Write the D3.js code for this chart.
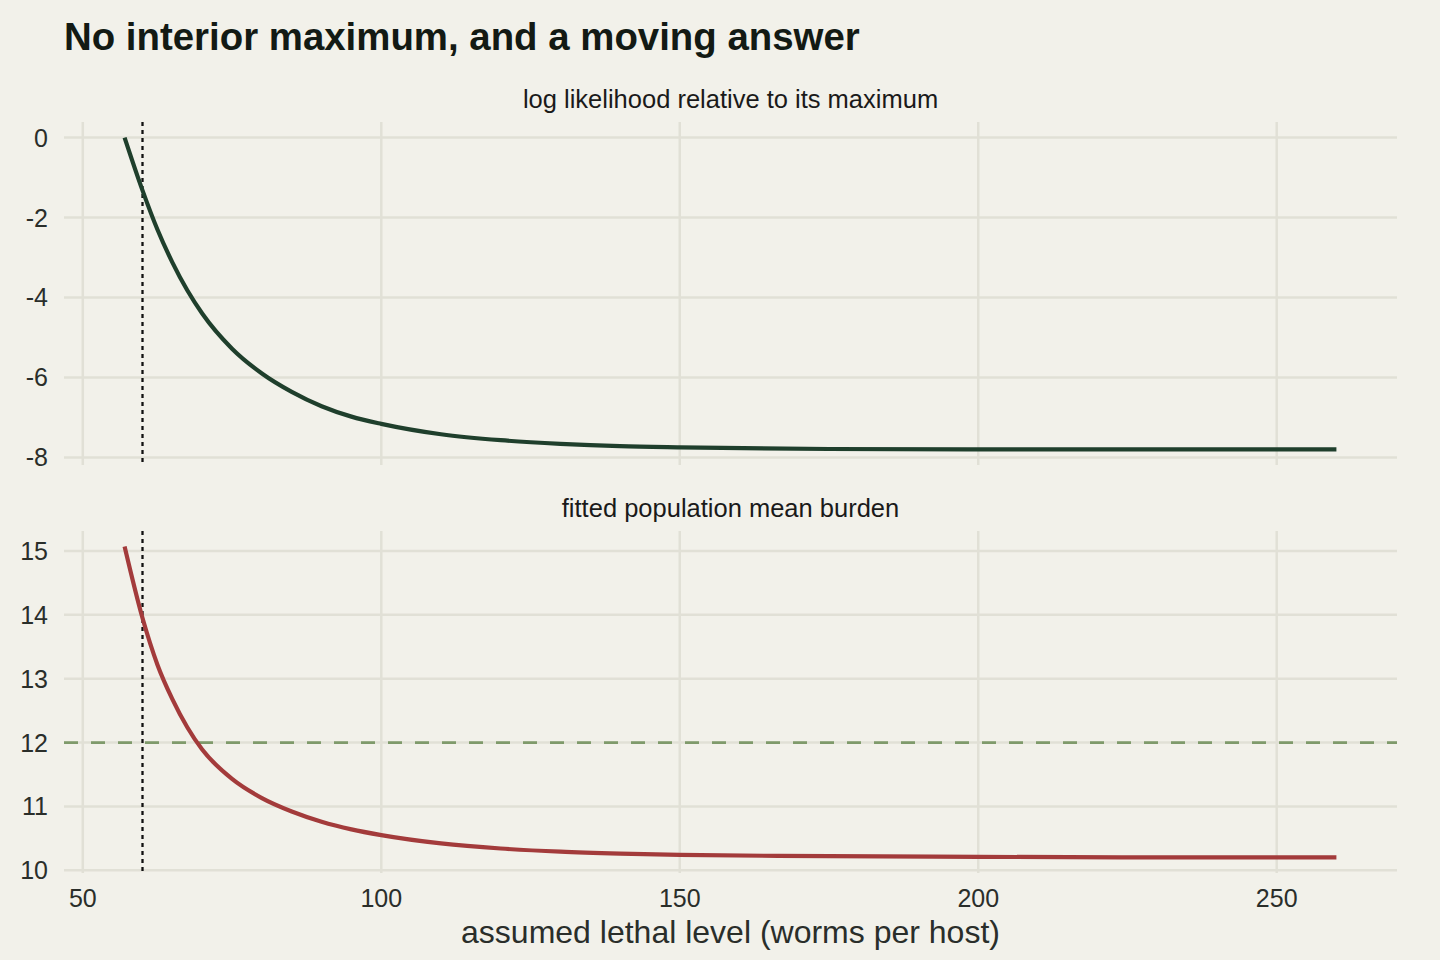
<!DOCTYPE html>
<html>
<head>
<meta charset="utf-8">
<script src="https://cdn.jsdelivr.net/npm/d3@7"></script>
<style>
  html, body { margin: 0; padding: 0; background: #f2f1ea; }
  svg { display: block; font-family: "Liberation Sans", Arial, Helvetica, sans-serif; }
</style>
</head>
<body>
<svg width="1440" height="960"></svg>
<script>
// values
const lethalLevel = [57, 60, 62.5, 65, 67.5, 70, 75, 80, 85, 90, 95, 100, 110, 120, 130, 140, 150, 175, 200, 230, 260];
const logLik      = [0, -1.32, -2.30, -3.12, -3.82, -4.40, -5.28, -5.90, -6.36, -6.72, -6.98, -7.16, -7.42, -7.57, -7.66, -7.72, -7.75, -7.79, -7.80, -7.80, -7.80];
const meanBurden  = [15.07, 13.95, 13.22, 12.68, 12.24, 11.89, 11.43, 11.13, 10.92, 10.76, 10.64, 10.55, 10.42, 10.34, 10.29, 10.26, 10.24, 10.22, 10.21, 10.20, 10.20];
const xTicks = [50, 100, 150, 200, 250];
const llTicks = [0, -2, -4, -6, -8];
const burdenTicks = [10, 11, 12, 13, 14, 15];
const refLethal = 60;   // dotted vertical
const refBurden = 12;   // dashed horizontal
const panelTitles = ["log likelihood relative to its maximum", "fitted population mean burden"];

const svg = d3.select("svg"),
      left = 64, right = 1397;

const pad = ext => { const d = (ext[1] - ext[0]) * 0.05; return [ext[0] - d, ext[1] + d]; };

const x = d3.scaleLinear().domain(pad(d3.extent(lethalLevel))).range([left, right]);

svg.append("text")
  .attr("x", 64).attr("y", 50)
  .attr("font-size", 38.4).attr("font-weight", "bold").attr("fill", "#131a14")
  .text("No interior maximum, and a moving answer");

const panels = [
  { values: logLik, ticks: llTicks, top: 122, bottom: 465, colour: "#1f3f2c", title: panelTitles[0], hline: null },
  { values: meanBurden, ticks: burdenTicks, top: 531, bottom: 873, colour: "#a33b3b", title: panelTitles[1], hline: refBurden }
];

panels.forEach(p => {
  const y = d3.scaleLinear().domain(pad(d3.extent(p.values))).range([p.bottom, p.top]);
  const g = svg.append("g");

  g.append("text")
    .attr("x", (left + right) / 2).attr("y", p.top - 14)
    .attr("text-anchor", "middle").attr("font-size", 25.5).attr("fill", "#1a1a1a")
    .text(p.title);

  // grid
  g.selectAll(".gx").data(xTicks).join("line")
    .attr("x1", d => x(d)).attr("x2", d => x(d))
    .attr("y1", p.top).attr("y2", p.bottom)
    .attr("stroke", "#e1e0d6").attr("stroke-width", 2.5);
  g.selectAll(".gy").data(p.ticks).join("line")
    .attr("x1", left).attr("x2", right)
    .attr("y1", d => y(d)).attr("y2", d => y(d))
    .attr("stroke", "#e1e0d6").attr("stroke-width", 2.5);

  // y tick labels
  g.selectAll(".yl").data(p.ticks).join("text")
    .attr("x", 48).attr("y", d => y(d)).attr("dy", "0.36em")
    .attr("text-anchor", "end").attr("font-size", 25).attr("fill", "#2a2e2a")
    .text(d => d);

  if (p.hline !== null) {
    g.append("line")
      .attr("x1", left).attr("x2", right)
      .attr("y1", y(p.hline)).attr("y2", y(p.hline))
      .attr("stroke", "#7f9a6b").attr("stroke-width", 2.8)
      .attr("stroke-dasharray", "14,13");
  }

  g.append("line")
    .attr("x1", x(refLethal)).attr("x2", x(refLethal))
    .attr("y1", p.top).attr("y2", p.bottom)
    .attr("stroke", "#111").attr("stroke-width", 2.3)
    .attr("stroke-dasharray", "4,4");

  const line = d3.line()
    .x((d, i) => x(lethalLevel[i]))
    .y(d => y(d))
    .curve(d3.curveMonotoneX);

  g.append("path")
    .attr("d", line(p.values))
    .attr("fill", "none").attr("stroke", p.colour).attr("stroke-width", 4.2);
});

// x tick labels (bottom panel only)
svg.append("g").selectAll("text").data(xTicks).join("text")
  .attr("x", d => x(d)).attr("y", 907)
  .attr("text-anchor", "middle").attr("font-size", 25).attr("fill", "#2a2e2a")
  .text(d => d);

svg.append("text")
  .attr("x", (left + right) / 2).attr("y", 943)
  .attr("text-anchor", "middle").attr("font-size", 32).attr("fill", "#2a2e2a")
  .text("assumed lethal level (worms per host)");
</script>
</body>
</html>
